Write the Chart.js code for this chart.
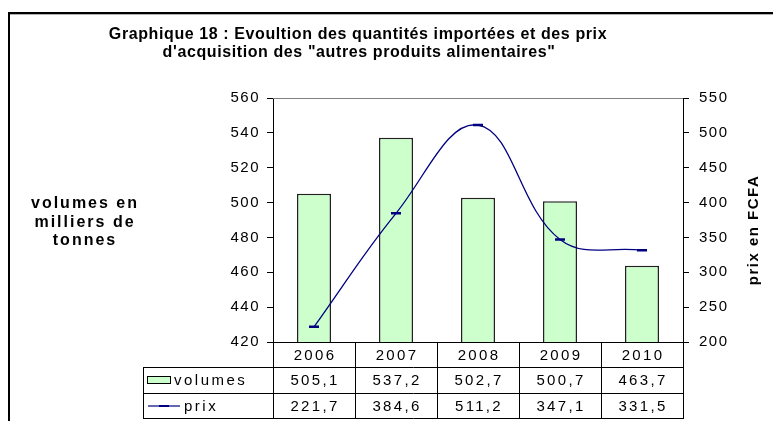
<!DOCTYPE html>
<html><head><meta charset="utf-8">
<script src="https://cdn.jsdelivr.net/npm/chart.js@4/dist/chart.umd.min.js"></script>
<style>html,body{margin:0;padding:0;background:#fff;overflow:hidden}canvas{display:block}</style>
</head><body>
<canvas id="c" width="773" height="421"></canvas>
<script>
const titleLines = ['Graphique 18 : Evoultion des quantités importées et des prix', 'd\'acquisition des "autres produits alimentaires"'];
const leftTitleLines = ['volumes en', 'milliers de', 'tonnes'];
const rightTitle = 'prix en FCFA';
const categories = ['2006', '2007', '2008', '2009', '2010'];
const seriesNames = ['volumes', 'prix'];
const volumes = [505.1, 537.2, 502.7, 500.7, 463.7];
const prix = [221.7, 384.6, 511.2, 347.1, 331.5];
const leftTicks = [420, 440, 460, 480, 500, 520, 540, 560];
const rightTicks = [200, 250, 300, 350, 400, 450, 500, 550];

const FONT = '"Liberation Sans", Arial, sans-serif';
const fmt = v => v.toFixed(1).replace('.', ',');

const deco = {
  id: 'deco',
  beforeDraw(chart) {
    const ctx = chart.ctx;
    ctx.save();
    ctx.fillStyle = '#fff';
    ctx.fillRect(0, 0, chart.width, chart.height);
    ctx.fillStyle = '#000';
    ctx.fillRect(8, 12, 2, chart.height - 12);
    ctx.fillRect(8, 12, chart.width - 8, 2);
    ctx.fillStyle = '#b0b0b0';
    ctx.fillRect(10, 14, chart.width - 10, 1);
    ctx.restore();
    ctx.letterSpacing = '1.5px';
  },
  afterDraw(chart) {
    const ctx = chart.ctx;
    const a = chart.chartArea;
    const xs = chart.scales.x;
    ctx.save();
    ctx.letterSpacing = '0px';
    // plot top border
    ctx.strokeStyle = '#808080';
    ctx.lineWidth = 1;
    ctx.beginPath(); ctx.moveTo(a.left, a.top + 0.5); ctx.lineTo(a.right, a.top + 0.5); ctx.stroke();

    // title
    ctx.fillStyle = '#000';
    ctx.textAlign = 'center';
    ctx.textBaseline = 'alphabetic';
    ctx.font = 'bold 16px ' + FONT;
    ctx.letterSpacing = '0.6px';
    ctx.fillText(titleLines[0], 358, 39);
    ctx.fillText(titleLines[1], 359, 57);

    // left axis title
    ctx.letterSpacing = '2px';
    leftTitleLines.forEach((t, i) => ctx.fillText(t, 85, 208 + i * 18.5));

    // right axis title
    ctx.font = 'bold 15px ' + FONT;
    ctx.letterSpacing = '1.5px';
    ctx.save();
    ctx.translate(754, 230);
    ctx.rotate(-Math.PI / 2);
    ctx.textBaseline = 'middle';
    ctx.fillText(rightTitle, 0, 0);
    ctx.restore();

    // data table
    const n = categories.length;
    const cw = (a.right - a.left) / n;
    const tLeft = 143;
    const rows = [a.bottom, 367, 393, 418];
    ctx.strokeStyle = '#000';
    ctx.lineWidth = 1;
    ctx.beginPath();
    for (let i = 1; i < rows.length; i++) {
      ctx.moveTo(tLeft, rows[i] + 0.5); ctx.lineTo(a.right + 1, rows[i] + 0.5);
    }
    ctx.moveTo(tLeft + 0.5, rows[1]); ctx.lineTo(tLeft + 0.5, rows[3] + 1);
    for (let i = 0; i <= n; i++) {
      const x = Math.round(a.left + i * cw) + 0.5;
      ctx.moveTo(x, rows[0]); ctx.lineTo(x, rows[3] + 1);
    }
    ctx.stroke();
    // x axis line
    ctx.beginPath(); ctx.moveTo(a.left, a.bottom + 0.5); ctx.lineTo(a.right + 1, a.bottom + 0.5); ctx.stroke();

    ctx.letterSpacing = '2.3px';
    ctx.font = '15px ' + FONT;
    ctx.textBaseline = 'middle';
    ctx.textAlign = 'center';
    const rowMid = [(rows[0] + rows[1]) / 2, (rows[1] + rows[2]) / 2, (rows[2] + rows[3]) / 2];
    categories.forEach((c, i) => {
      const x = xs.getPixelForValue(i) + 1;
      ctx.fillText(c, x, rowMid[0] + 1);
      ctx.fillText(fmt(volumes[i]), x, rowMid[1] + 1);
      ctx.fillText(fmt(prix[i]), x, rowMid[2] + 1);
    });
    // legend keys
    ctx.textAlign = 'left';
    ctx.letterSpacing = '2.5px';
    ctx.fillText(seriesNames[0], 174, rowMid[1] + 1);
    ctx.fillText(seriesNames[1], 184, rowMid[2] + 1);
    ctx.fillStyle = '#ccffcc';
    ctx.fillRect(147.5, 376.5, 23, 7);
    ctx.strokeStyle = '#000';
    ctx.strokeRect(147.5, 376.5, 23, 7);
    ctx.strokeStyle = '#000080';
    ctx.lineWidth = 1.2;
    ctx.beginPath(); ctx.moveTo(148, 406); ctx.lineTo(180, 406); ctx.stroke();
    ctx.lineWidth = 2;
    ctx.beginPath(); ctx.moveTo(159, 406); ctx.lineTo(169, 406); ctx.stroke();
    ctx.restore();
  }
};

const tickFont = { family: FONT, size: 15 };

new Chart(document.getElementById('c'), {
  data: {
    labels: categories,
    datasets: [
      {
        type: 'line', label: seriesNames[1], data: prix, yAxisID: 'y1', order: 0,
        borderColor: '#000080', borderWidth: 1.3, tension: 0.4, fill: false,
        pointStyle: 'line', pointRadius: 5, pointBorderWidth: 2.5, pointBorderColor: '#000080',
        pointBackgroundColor: '#000080'
      },
      {
        type: 'bar', label: seriesNames[0], data: volumes, yAxisID: 'y', order: 1,
        backgroundColor: '#ccffcc', borderColor: '#222', borderWidth: 1.5,
        barPercentage: 0.415, categoryPercentage: 1
      }
    ]
  },
  options: {
    responsive: false,
    animation: false,
    devicePixelRatio: 1,
    layout: { padding: { left: 213, right: 30, top: 98, bottom: 79 } },
    plugins: { legend: { display: false }, title: { display: false }, tooltip: { enabled: false } },
    scales: {
      x: { display: false, offset: true },
      y: {
        position: 'left', min: leftTicks[0], max: leftTicks[leftTicks.length - 1],
        afterFit: s => { s.width = 60; },
        afterBuildTicks: s => { s.ticks = leftTicks.map(v => ({ value: v })); },
        ticks: { color: '#000', font: tickFont, padding: 7 },
        grid: { drawOnChartArea: false, drawTicks: true, tickLength: 6, color: '#000' },
        border: { display: true, color: '#000', width: 1 }
      },
      y1: {
        position: 'right', min: rightTicks[0], max: rightTicks[rightTicks.length - 1],
        afterFit: s => { s.width = 60; },
        afterBuildTicks: s => { s.ticks = rightTicks.map(v => ({ value: v })); },
        ticks: { color: '#000', font: tickFont, padding: 10 },
        grid: { drawOnChartArea: false, drawTicks: true, tickLength: 6, color: '#000' },
        border: { display: true, color: '#000', width: 1 }
      }
    }
  },
  plugins: [deco]
});
</script>
</body></html>
